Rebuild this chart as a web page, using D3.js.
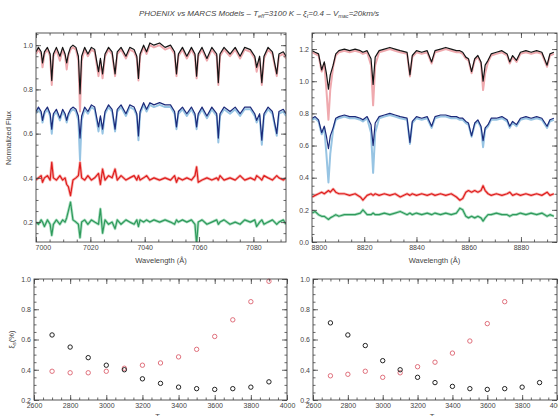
<!DOCTYPE html>
<html>
<head>
<meta charset="utf-8">
<script src="https://cdn.jsdelivr.net/npm/d3@7"></script>
<style>
  body { margin: 0; background: #fff; }
  svg { font-family: "Liberation Sans", Arial, sans-serif; }
</style>
</head>
<body>
<div id="chart"></div>
<script>
// ---- 7000 A window ----
const wlA = [7000.0, 7000.9, 7001.9, 7002.4, 7003.1, 7004.2, 7005.2, 7005.8, 7006.4, 7007.5,
  7008.8, 7009.8, 7010.7, 7011.3, 7011.9, 7012.7, 7013.6, 7014.7, 7015.6, 7016.2,
  7016.8, 7017.9, 7019.1, 7020.4, 7021.6, 7023.0, 7023.7, 7024.5, 7025.4, 7026.7,
  7028.0, 7029.1, 7029.9, 7031.3, 7033.1, 7034.5, 7036.1, 7037.1, 7037.7, 7038.3,
  7039.6, 7040.7, 7041.9, 7043.4, 7045.5, 7047.5, 7049.5, 7051.0, 7051.7, 7052.4,
  7053.9, 7055.5, 7057.2, 7058.5, 7059.1, 7059.7, 7061.1, 7062.9, 7064.7, 7066.5,
  7067.1, 7067.7, 7069.2, 7071.4, 7073.3, 7075.1, 7076.8, 7078.9, 7080.5, 7081.2,
  7082.3, 7083.1, 7083.9, 7085.4, 7087.0, 7088.6, 7089.4, 7091.0, 7092.0];
const phoenixA = [0.97, 0.99, 0.97, 0.92, 0.97, 0.99, 0.96, 0.84, 0.96, 0.99,
  0.95, 0.99, 0.96, 0.92, 0.96, 0.99, 1.00, 0.99, 0.95, 0.78,
  0.95, 0.99, 0.96, 0.99, 0.98, 0.88, 0.94, 0.87, 0.96, 0.99,
  0.97, 0.87, 0.97, 0.99, 0.95, 0.99, 0.98, 0.95, 0.85, 0.96,
  1.00, 0.97, 1.01, 1.00, 1.01, 0.99, 1.00, 0.97, 0.87, 0.96,
  0.99, 0.95, 0.99, 0.96, 0.86, 0.96, 0.99, 0.94, 0.99, 0.96,
  0.83, 0.96, 0.99, 0.96, 0.99, 0.95, 0.99, 0.98, 0.95, 0.90,
  0.95, 0.83, 0.95, 0.99, 0.97, 0.87, 0.96, 0.97, 0.95];
const marcsA = [0.96, 0.98, 0.96, 0.90, 0.96, 0.98, 0.95, 0.82, 0.95, 0.98,
  0.93, 0.98, 0.95, 0.89, 0.95, 0.98, 0.99, 0.98, 0.93, 0.70,
  0.93, 0.98, 0.95, 0.98, 0.97, 0.86, 0.93, 0.85, 0.95, 0.98,
  0.96, 0.86, 0.96, 0.98, 0.94, 0.98, 0.97, 0.94, 0.84, 0.95,
  0.99, 0.96, 1.00, 0.99, 1.00, 0.98, 0.99, 0.96, 0.86, 0.95,
  0.98, 0.94, 0.98, 0.95, 0.85, 0.95, 0.98, 0.93, 0.98, 0.95,
  0.82, 0.95, 0.98, 0.95, 0.98, 0.94, 0.98, 0.97, 0.94, 0.88,
  0.94, 0.82, 0.94, 0.98, 0.96, 0.86, 0.95, 0.96, 0.94];
const phoenix2A = [0.70, 0.72, 0.70, 0.66, 0.70, 0.72, 0.69, 0.62, 0.69, 0.71,
  0.67, 0.71, 0.69, 0.66, 0.69, 0.71, 0.72, 0.71, 0.68, 0.58,
  0.68, 0.72, 0.70, 0.73, 0.72, 0.63, 0.68, 0.62, 0.70, 0.73,
  0.71, 0.62, 0.71, 0.73, 0.69, 0.73, 0.72, 0.69, 0.59, 0.70,
  0.74, 0.71, 0.74, 0.73, 0.74, 0.73, 0.73, 0.70, 0.63, 0.70,
  0.72, 0.69, 0.72, 0.69, 0.63, 0.69, 0.72, 0.68, 0.72, 0.69,
  0.58, 0.69, 0.72, 0.70, 0.72, 0.69, 0.72, 0.72, 0.69, 0.66,
  0.69, 0.57, 0.69, 0.72, 0.70, 0.60, 0.70, 0.71, 0.69];
const marcs2A = [0.69, 0.71, 0.69, 0.65, 0.69, 0.71, 0.68, 0.60, 0.68, 0.70,
  0.66, 0.70, 0.68, 0.65, 0.68, 0.70, 0.71, 0.70, 0.66, 0.48,
  0.66, 0.71, 0.69, 0.72, 0.71, 0.61, 0.67, 0.60, 0.69, 0.72,
  0.70, 0.61, 0.70, 0.72, 0.68, 0.72, 0.71, 0.68, 0.57, 0.69,
  0.73, 0.70, 0.73, 0.72, 0.73, 0.72, 0.72, 0.69, 0.62, 0.69,
  0.71, 0.68, 0.71, 0.68, 0.62, 0.68, 0.71, 0.67, 0.71, 0.68,
  0.56, 0.68, 0.71, 0.69, 0.71, 0.68, 0.71, 0.71, 0.68, 0.65,
  0.68, 0.55, 0.68, 0.71, 0.69, 0.59, 0.69, 0.70, 0.68];
const ratioA = [0.39, 0.40, 0.41, 0.38, 0.40, 0.41, 0.39, 0.47, 0.40, 0.39,
  0.41, 0.39, 0.40, 0.37, 0.36, 0.32, 0.39, 0.40, 0.41, 0.47,
  0.40, 0.39, 0.41, 0.39, 0.40, 0.42, 0.37, 0.44, 0.39, 0.41,
  0.40, 0.44, 0.39, 0.41, 0.39, 0.40, 0.41, 0.39, 0.41, 0.39,
  0.40, 0.41, 0.39, 0.40, 0.39, 0.40, 0.39, 0.41, 0.38, 0.40,
  0.39, 0.40, 0.39, 0.41, 0.45, 0.38, 0.39, 0.40, 0.39, 0.40,
  0.39, 0.41, 0.39, 0.40, 0.39, 0.41, 0.39, 0.40, 0.39, 0.41,
  0.40, 0.39, 0.41, 0.40, 0.39, 0.41, 0.40, 0.39, 0.40];
const diffA = [0.20, 0.19, 0.21, 0.20, 0.18, 0.21, 0.19, 0.14, 0.19, 0.21,
  0.19, 0.21, 0.20, 0.22, 0.25, 0.29, 0.21, 0.20, 0.19, 0.13,
  0.20, 0.21, 0.19, 0.21, 0.20, 0.19, 0.26, 0.15, 0.21, 0.19,
  0.20, 0.17, 0.21, 0.19, 0.21, 0.20, 0.19, 0.21, 0.18, 0.21,
  0.20, 0.21, 0.20, 0.21, 0.20, 0.21, 0.20, 0.19, 0.21, 0.20,
  0.21, 0.20, 0.21, 0.19, 0.10, 0.20, 0.21, 0.19, 0.20, 0.21,
  0.19, 0.20, 0.21, 0.19, 0.20, 0.19, 0.21, 0.20, 0.21, 0.18,
  0.20, 0.21, 0.19, 0.20, 0.21, 0.19, 0.20, 0.21, 0.19];

// ---- 8800 A window ----
const wlB = [8800.1, 8801.2, 8802.5, 8803.7, 8804.7, 8805.5, 8806.3, 8807.0, 8808.1, 8809.1,
  8810.3, 8812.4, 8814.4, 8816.5, 8818.5, 8819.5, 8821.1, 8822.6, 8823.4, 8824.2,
  8825.7, 8827.7, 8829.8, 8831.8, 8833.8, 8836.4, 8837.5, 8838.4, 8840.0, 8842.0,
  8844.1, 8845.8, 8847.1, 8849.2, 8851.2, 8853.3, 8855.3, 8856.6, 8857.7, 8858.9,
  8859.9, 8861.1, 8862.3, 8863.5, 8864.7, 8865.5, 8866.3, 8867.4, 8868.6, 8870.6,
  8872.7, 8874.7, 8875.7, 8876.8, 8878.3, 8879.8, 8881.9, 8883.9, 8886.0, 8888.0,
  8890.0, 8891.1, 8892.6];
const phoenixB = [1.19, 1.18, 1.17, 1.07, 1.12, 1.05, 0.95, 1.04, 1.10, 1.17,
  1.19, 1.20, 1.19, 1.20, 1.19, 1.18, 1.19, 1.14, 0.98, 1.15,
  1.19, 1.20, 1.21, 1.20, 1.19, 1.18, 1.04, 1.16, 1.19, 1.18,
  1.19, 1.12, 1.19, 1.20, 1.21, 1.20, 1.19, 1.19, 1.18, 1.15,
  1.14, 1.06, 1.14, 1.16, 1.12, 1.00, 1.10, 1.13, 1.17, 1.18,
  1.19, 1.17, 1.12, 1.16, 1.13, 1.18, 1.19, 1.18, 1.19, 1.18,
  1.10, 1.17, 1.18];
const marcsB = [1.18, 1.17, 1.16, 1.06, 1.11, 0.95, 0.76, 0.95, 1.09, 1.16,
  1.18, 1.19, 1.18, 1.19, 1.18, 1.17, 1.18, 1.10, 0.85, 1.10,
  1.18, 1.19, 1.20, 1.19, 1.18, 1.17, 1.03, 1.15, 1.18, 1.17,
  1.18, 1.11, 1.18, 1.19, 1.20, 1.19, 1.18, 1.18, 1.17, 1.14,
  1.13, 1.05, 1.13, 1.15, 1.11, 0.945, 1.05, 1.12, 1.16, 1.17,
  1.18, 1.16, 1.11, 1.15, 1.12, 1.17, 1.18, 1.17, 1.18, 1.17,
  1.09, 1.16, 1.17];
const phoenix2B = [0.77, 0.78, 0.76, 0.68, 0.72, 0.66, 0.58, 0.66, 0.71, 0.77,
  0.78, 0.79, 0.78, 0.78, 0.77, 0.76, 0.78, 0.73, 0.60, 0.74,
  0.78, 0.79, 0.80, 0.79, 0.78, 0.77, 0.62, 0.75, 0.78, 0.77,
  0.78, 0.72, 0.78, 0.79, 0.79, 0.78, 0.78, 0.77, 0.77, 0.75,
  0.74, 0.66, 0.74, 0.76, 0.72, 0.63, 0.71, 0.73, 0.77, 0.77,
  0.78, 0.76, 0.72, 0.75, 0.73, 0.77, 0.78, 0.77, 0.78, 0.77,
  0.72, 0.76, 0.77];
const marcs2B = [0.76, 0.77, 0.75, 0.67, 0.71, 0.55, 0.37, 0.55, 0.70, 0.76,
  0.77, 0.78, 0.77, 0.77, 0.76, 0.75, 0.77, 0.68, 0.43, 0.68,
  0.77, 0.78, 0.79, 0.78, 0.77, 0.76, 0.61, 0.74, 0.77, 0.76,
  0.77, 0.71, 0.77, 0.78, 0.78, 0.77, 0.77, 0.76, 0.76, 0.74,
  0.73, 0.655, 0.73, 0.75, 0.71, 0.59, 0.70, 0.72, 0.76, 0.76,
  0.77, 0.75, 0.71, 0.74, 0.72, 0.76, 0.77, 0.76, 0.77, 0.76,
  0.71, 0.75, 0.76];
const ratioB = [0.28, 0.29, 0.30, 0.31, 0.30, 0.31, 0.32, 0.31, 0.33, 0.31,
  0.30, 0.30, 0.29, 0.30, 0.28, 0.26, 0.29, 0.30, 0.29, 0.30,
  0.29, 0.30, 0.29, 0.30, 0.28, 0.30, 0.29, 0.30, 0.29, 0.30,
  0.29, 0.30, 0.29, 0.30, 0.29, 0.30, 0.28, 0.26, 0.27, 0.31,
  0.32, 0.31, 0.32, 0.31, 0.32, 0.35, 0.32, 0.30, 0.29, 0.30,
  0.29, 0.30, 0.31, 0.29, 0.30, 0.29, 0.30, 0.29, 0.30, 0.29,
  0.31, 0.29, 0.30];
const diffB = [0.18, 0.19, 0.17, 0.16, 0.16, 0.15, 0.14, 0.15, 0.16, 0.17,
  0.16, 0.17, 0.17, 0.17, 0.18, 0.20, 0.17, 0.17, 0.18, 0.17,
  0.17, 0.18, 0.17, 0.18, 0.19, 0.17, 0.18, 0.17, 0.18, 0.17,
  0.18, 0.17, 0.18, 0.17, 0.18, 0.17, 0.18, 0.21, 0.20, 0.16,
  0.15, 0.16, 0.15, 0.16, 0.15, 0.13, 0.15, 0.17, 0.17, 0.18,
  0.17, 0.17, 0.16, 0.17, 0.17, 0.18, 0.17, 0.18, 0.17, 0.18,
  0.16, 0.17, 0.16];

// ---- deviation vs Teff ----
const teffs = [2700, 2800, 2900, 3000, 3100, 3200, 3300, 3400, 3500, 3600, 3700, 3800, 3900];
const devBlackA = [0.63, 0.55, 0.48, 0.43, 0.40, 0.34, 0.31, 0.285, 0.275, 0.27, 0.275, 0.285, 0.32];
const devRedA = [0.39, 0.38, 0.38, 0.39, 0.41, 0.43, 0.445, 0.485, 0.535, 0.62, 0.73, 0.85, 0.985];
const devBlackB = [0.71, 0.63, 0.56, 0.46, 0.40, 0.35, 0.315, 0.29, 0.275, 0.27, 0.275, 0.285, 0.315];
const devRedB = [0.36, 0.37, 0.39, 0.35, 0.38, 0.42, 0.45, 0.51, 0.59, 0.705, 0.85];

const width = 558, height = 416;
const svg = d3.select("#chart").append("svg")
  .attr("width", width).attr("height", height);

const ink = "#444";

//title
const title = svg.append("text")
  .attr("x", 259).attr("y", 16)
  .attr("text-anchor", "middle")
  .attr("font-size", 8).attr("font-style", "italic").attr("fill", ink);
[["PHOENIX vs MARCS Models \u2013 T", 0], ["eff", 1], ["=3100 K \u2013 \u03be", 0], ["t", 1],
 ["=0.4 \u2013 V", 0], ["mac", 1], ["=20km/s", 0]].forEach(([t, sub], i, arr) => {
  const prevSub = i > 0 && arr[i - 1][1];
  title.append("tspan")
    .attr("font-size", sub ? 5.5 : 8)
    .attr("dy", sub ? 2 : prevSub ? -2 : 0)
    .text(t);
});

function drawFrame(g, x, y, ticks) {
  const [xl, xr] = x.range();
  const [yb, yt] = y.range();

  g.append("rect")
    .attr("x", xl).attr("y", yt).attr("width", xr - xl).attr("height", yb - yt)
    .attr("fill", "none").attr("stroke", ink).attr("stroke-width", 0.9);

  const axes = [
    [d3.axisBottom(x), yb, 0, ticks.xMajor, ticks.xMinor, ticks.xFmt],
    [d3.axisTop(x), yt, 0, ticks.xMajor, ticks.xMinor, null],
    [d3.axisLeft(y), 0, xl, ticks.yMajor, ticks.yMinor, ticks.yFmt],
    [d3.axisRight(y), 0, xr, ticks.yMajor, ticks.yMinor, null],
  ];
  axes.forEach(([axis, ty, tx, major, minor, fmt], k) => {
    const a = g.append("g").attr("transform", `translate(${tx},${ty})`)
      .call(axis.tickValues(major).tickSize(-5).tickPadding(3)
        .tickFormat(fmt ? fmt : () => ""));
    //first wavelength label sits inside the frame, as in the original
    if (k === 0 && ticks.firstStart)
      a.select(".tick text").attr("text-anchor", "start").attr("dx", -1);
    g.append("g").attr("transform", `translate(${tx},${ty})`)
      .call(axis.tickValues(minor).tickSize(-2.5).tickFormat(() => ""))
      .attr("class", "minor");
  });
  g.selectAll(".domain").remove();
  g.selectAll(".tick line").attr("stroke", ink).attr("stroke-width", 0.8);
  g.selectAll(".tick text").attr("fill", ink).attr("font-size", 7)
    .attr("font-family", "Liberation Sans, Arial, sans-serif");
}

function spectrumPanel(id, box, wl, xDomain, yDomain, series, ticks) {
  const x = d3.scaleLinear().domain(xDomain).range([box.x0, box.x1]);
  const y = d3.scaleLinear().domain(yDomain).range([box.y1, box.y0]);
  const g = svg.append("g");

  svg.append("clipPath").attr("id", id).append("rect")
    .attr("x", box.x0).attr("y", box.y0)
    .attr("width", box.x1 - box.x0).attr("height", box.y1 - box.y0);

  const line = d3.line().x((d, i) => x(wl[i])).y((d) => y(d));
  const lines = g.append("g").attr("clip-path", `url(#${id})`);
  series.forEach((s) => {
    lines.append("path").datum(s.values)
      .attr("d", line).attr("fill", "none")
      .attr("stroke", s.color).attr("stroke-width", s.width)
      .attr("stroke-linejoin", "round");
  });

  drawFrame(g, x, y, ticks);
  g.append("text")
    .attr("x", (box.x0 + box.x1) / 2).attr("y", 263)
    .attr("text-anchor", "middle").attr("font-size", 7.5).attr("fill", ink)
    .text("Wavelength (\u00c5)");
  return g;
}

function devPanel(box, seriesList, ylabel) {
  const x = d3.scaleLinear().domain([2600, 4000]).range([box.x0, box.x1]);
  const y = d3.scaleLinear().domain([0.2, 1.0]).range([box.y1, box.y0]);
  const g = svg.append("g");
  seriesList.forEach((s) => {
    g.append("g").selectAll("circle").data(s.values).join("circle")
      .attr("cx", (d, i) => x(teffs[i])).attr("cy", (d) => y(d))
      .attr("r", 2.2).attr("fill", "none")
      .attr("stroke", s.color).attr("stroke-width", 1);
  });
  drawFrame(g, x, y, {
    xMajor: d3.range(2600, 4001, 200), xMinor: d3.range(2600, 4001, 50),
    yMajor: d3.range(0.2, 1.01, 0.2), yMinor: d3.range(0.2, 1.001, 0.05),
    xFmt: d3.format("d"), yFmt: d3.format(".1f"),
  });
  const xl = g.append("text")
    .attr("x", (box.x0 + box.x1) / 2).attr("y", 419)
    .attr("text-anchor", "middle").attr("font-size", 7.5).attr("fill", ink);
  xl.append("tspan").text("T");
  xl.append("tspan").attr("font-size", 5.5).attr("dy", 2).text("eff");
  if (ylabel) {
    const yl = g.append("text")
      .attr("transform", `translate(14,${(box.y0 + box.y1) / 2}) rotate(-90)`)
      .attr("text-anchor", "middle").attr("font-size", 7.5).attr("fill", ink);
    yl.append("tspan").text("\u03be");
    yl.append("tspan").attr("font-size", 5.5).attr("dy", 2).text("s");
    yl.append("tspan").attr("dy", -2).text("(%)");
  }
}

spectrumPanel("clipA", { x0: 36, x1: 286, y0: 33, y1: 242 }, wlA, [7000, 7092], [0.11, 1.055], [
  { values: marcsA, color: "#efa9ae", width: 2.0 },
  { values: phoenixA, color: "#151515", width: 1.2 },
  { values: marcs2A, color: "#97c4e3", width: 2.0 },
  { values: phoenix2A, color: "#1c2a7a", width: 1.2 },
  { values: ratioA, color: "#f7b3b0", width: 2.8 },
  { values: ratioA, color: "#df1d1d", width: 1.2 },
  { values: diffA, color: "#addfc2", width: 2.8 },
  { values: diffA, color: "#2f9a5c", width: 1.2 },
], {
  xMajor: [7000, 7020, 7040, 7060, 7080], xMinor: d3.range(7000, 7093, 5),
  yMajor: [0.2, 0.4, 0.6, 0.8, 1.0], yMinor: d3.range(0.15, 1.051, 0.05),
  xFmt: d3.format("d"), yFmt: d3.format(".1f"), firstStart: true,
});

spectrumPanel("clipB", { x0: 312, x1: 557, y0: 33, y1: 242 }, wlB, [8800, 8893.8], [0, 1.3], [
  { values: marcsB, color: "#efa9ae", width: 2.0 },
  { values: phoenixB, color: "#151515", width: 1.2 },
  { values: marcs2B, color: "#97c4e3", width: 2.0 },
  { values: phoenix2B, color: "#1c2a7a", width: 1.2 },
  { values: ratioB, color: "#f7b3b0", width: 2.8 },
  { values: ratioB, color: "#df1d1d", width: 1.2 },
  { values: diffB, color: "#addfc2", width: 2.8 },
  { values: diffB, color: "#2f9a5c", width: 1.2 },
], {
  xMajor: [8800, 8820, 8840, 8860, 8880], xMinor: d3.range(8800, 8894, 5),
  yMajor: [0.0, 0.2, 0.4, 0.6, 0.8, 1.0, 1.2], yMinor: d3.range(0, 1.301, 0.05),
  xFmt: d3.format("d"), yFmt: d3.format(".1f"), firstStart: true,
});

svg.append("text")
  .attr("transform", "translate(11,138) rotate(-90)")
  .attr("text-anchor", "middle").attr("font-size", 7.5).attr("fill", ink)
  .text("Normalized Flux");

devPanel({ x0: 34, x1: 287, y0: 279, y1: 400 }, [
  { values: devRedA, color: "#e0707c" },
  { values: devBlackA, color: "#222" },
], true);
devPanel({ x0: 313, x1: 557, y0: 279, y1: 400 }, [
  { values: devRedB, color: "#e0707c" },
  { values: devBlackB, color: "#222" },
], false);
</script>
</body>
</html>
